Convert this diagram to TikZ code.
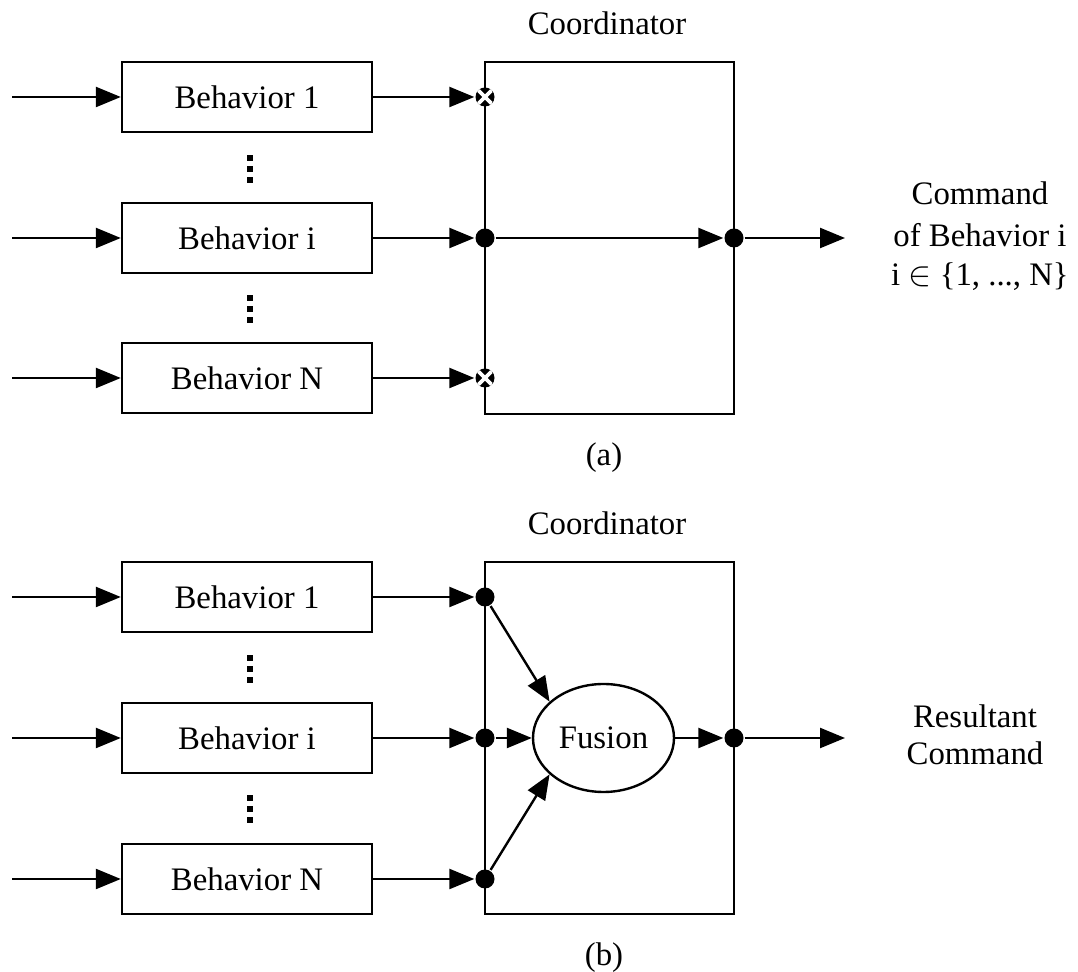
\documentclass[tikz,border=0pt]{standalone}
\usepackage{fontspec}
\setmainfont{Liberation Serif}
\usetikzlibrary{arrows.meta,shapes.geometric}
\begin{document}
\begin{tikzpicture}[x=0.5pt,y=-0.5pt,line width=1.2pt,
  every node/.style={font=\fontsize{16.4}{20}\selectfont},
  arr/.style={-{Triangle[length=12.5pt,width=10pt]}},
  behbox/.style={draw,minimum width=125pt,minimum height=35pt,inner sep=0pt},
  coordbox/.style={draw,minimum width=124.5pt,minimum height=176pt,inner sep=0pt},
  dot/.style={circle,fill=black,minimum size=9.5pt,inner sep=0pt},
  xdot/.style={dot,path picture={
      \draw[white,line width=1.8pt]
        ([shift={(1.4pt,-1.4pt)}]path picture bounding box.north west) -- ([shift={(-1.4pt,1.4pt)}]path picture bounding box.south east)
        ([shift={(-1.4pt,-1.4pt)}]path picture bounding box.north east) -- ([shift={(1.4pt,1.4pt)}]path picture bounding box.south west);}},
  lbl/.style={anchor=base},
  vdot/.style={fill=black,minimum size=2.6pt,inner sep=0pt}
]
\useasboundingbox (0,0) rectangle (1078,972);

% ---------- (a) selection ----------
\node[lbl] (coordA) at (607,35) {Coordinator};
\node[coordbox] (cbA) at (609.5,238) {};

\node[behbox] (a1) at (247,97) {Behavior 1};
\node[behbox] (ai) at (247,238) {Behavior i};
\node[behbox] (aN) at (247,378) {Behavior N};

\foreach \y/\n in {158/1,169/2,180/3,298/4,309/5,320/6}
  \node[vdot] (av\n) at (250,\y) {};

\coordinate (ain1) at (12,97);
\coordinate (aini) at (12,238);
\coordinate (ainN) at (12,378);
\draw[arr] (ain1) -- (a1.west);
\draw[arr] (aini) -- (ai.west);
\draw[arr] (ainN) -- (aN.west);

\node[xdot] (ad1) at (485,97) {};
\node[dot] (adi) at (485,238) {};
\node[xdot] (adN) at (485,378) {};
\node[dot] (adout) at (734,238) {};

\draw[arr] (a1.east) -- (ad1);
\draw[arr] (ai.east) -- (adi);
\draw[arr] (aN.east) -- (adN);
\draw[arr] (adi) -- (adout);

\coordinate (aout) at (845,238);
\draw[arr] (adout) -- (aout);

\node[lbl] (cmdA1) at (980,205) {Command};
\node[lbl] (cmdA2) at (980,247) {of Behavior i};
\node[lbl] (cmdA3) at (980,286) {i {\fontsize{19}{20}\selectfont$\in$}\ \{1, ..., N\}};

\node[lbl] (capA) at (604,466) {(a)};

% ---------- (b) fusion ----------
\node[lbl] (coordB) at (607,535) {Coordinator};
\node[coordbox] (cbB) at (609.5,738) {};

\node[behbox] (b1) at (247,597) {Behavior 1};
\node[behbox] (bi) at (247,738) {Behavior i};
\node[behbox] (bN) at (247,879) {Behavior N};

\foreach \y/\n in {658/1,669/2,680/3,798/4,809/5,820/6}
  \node[vdot] (bv\n) at (250,\y) {};

\coordinate (bin1) at (12,597);
\coordinate (bini) at (12,738);
\coordinate (binN) at (12,879);
\draw[arr] (bin1) -- (b1.west);
\draw[arr] (bini) -- (bi.west);
\draw[arr] (binN) -- (bN.west);

\node[dot] (bd1) at (485,597) {};
\node[dot] (bdi) at (485,738) {};
\node[dot] (bdN) at (485,879) {};
\node[dot] (bdout) at (734,738) {};

\draw[arr] (b1.east) -- (bd1);
\draw[arr] (bi.east) -- (bdi);
\draw[arr] (bN.east) -- (bdN);

\node[draw,ellipse,minimum width=70.5pt,minimum height=54pt,inner sep=0pt] (fus) at (603.5,738) {Fusion};

\draw[arr] (bd1) -- (fus.146);
\draw[arr] (bdi) -- (fus.west);
\draw[arr] (bdN) -- (fus.214);
\draw[arr] (fus.east) -- (bdout);

\coordinate (bout) at (845,738);
\draw[arr] (bdout) -- (bout);

\node[lbl] (resB1) at (975,728) {Resultant};
\node[lbl] (resB2) at (975,765) {Command};

\node[lbl] (capB) at (604,966) {(b)};
\end{tikzpicture}
\end{document}
